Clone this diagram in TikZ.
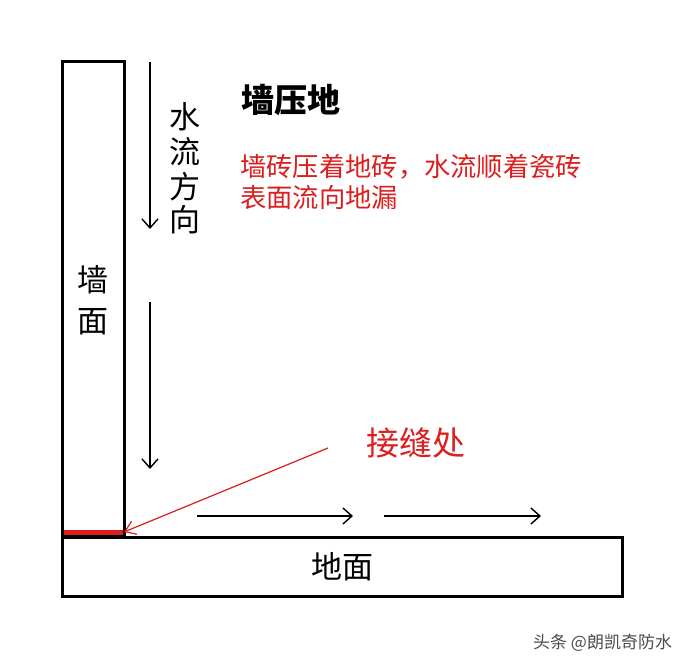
\documentclass[tikz,border=0pt]{standalone}
\usepackage{fontspec}
\newfontfamily\cjk{Noto Sans CJK SC}
\usetikzlibrary{arrows.meta}
\definecolor{myred}{RGB}{220,30,30}
\begin{document}
\begin{tikzpicture}[x=1pt,y=-1pt,
  box/.style={draw=black,line width=3pt},
  flow/.style={draw=black,line width=1.4pt,-{Straight Barb[length=9pt,width=16pt,line width=1.4pt]}},
  lbl/.style={font=\cjk\fontsize{31}{31}\selectfont,inner sep=0pt},
  redtxt/.style={font=\cjk\fontsize{26.3}{31}\selectfont,text=myred,inner sep=0pt,align=left}]
\useasboundingbox (0,0) rectangle (694,668);
\fill[white] (0,0) rectangle (694,668);
% wall and floor
\node[box,minimum width=62pt,minimum height=474pt,inner sep=0pt] (wall) at (93,299) {};
\node[box,minimum width=560pt,minimum height=59pt,inner sep=0pt] (floor) at (342,566.5) {};
\fill[myred] (63.5,529.5) rectangle (122.5,534.5);
\coordinate (joint) at (124,532);
% texts
\node[lbl] (w1) at (93,280) {墙};
\node[lbl] (w2) at (93,322) {面};
\node[lbl] (floortxt) at (342,567) {地面};
\node[lbl] (s1) at (185,117) {水};
\node[lbl] (s2) at (185,152) {流};
\node[lbl] (s3) at (185,187) {方};
\node[lbl] (s4) at (185,220) {向};
\node[font=\cjk\bfseries\fontsize{33}{33}\selectfont,inner sep=0pt,anchor=west] (title) at (241,100) {墙压地};
\node[redtxt,anchor=north west] (desc) at (240,154) {墙砖压着地砖，水流顺着瓷砖\\表面流向地漏};
\node[font=\cjk\fontsize{33}{33}\selectfont,text=myred,inner sep=0pt,anchor=west] (jiefeng) at (366,443) {接缝处};
\node[font=\cjk\fontsize{17}{17}\selectfont,text=black!70,inner sep=0pt,anchor=west] (wm) at (533,643) {头条 @朗凯奇防水};
% flow arrows
\coordinate (a1s) at (150,62); \coordinate (a1e) at (150,229);
\coordinate (a2s) at (150,302); \coordinate (a2e) at (150,469);
\coordinate (h1s) at (197,516); \coordinate (h1e) at (353,516);
\coordinate (h2s) at (384,516); \coordinate (h2e) at (541,516);
\draw[flow] (a1s) -- (a1e);
\draw[flow] (a2s) -- (a2e);
\draw[flow] (h1s) -- (h1e);
\draw[flow] (h2s) -- (h2e);
% red pointer
\coordinate (ps) at (328,448);
\draw[myred,line width=1.2pt,-{Straight Barb[length=10pt,width=14pt,line width=1.2pt]}] (ps) -- (joint);
\end{tikzpicture}
\end{document}
